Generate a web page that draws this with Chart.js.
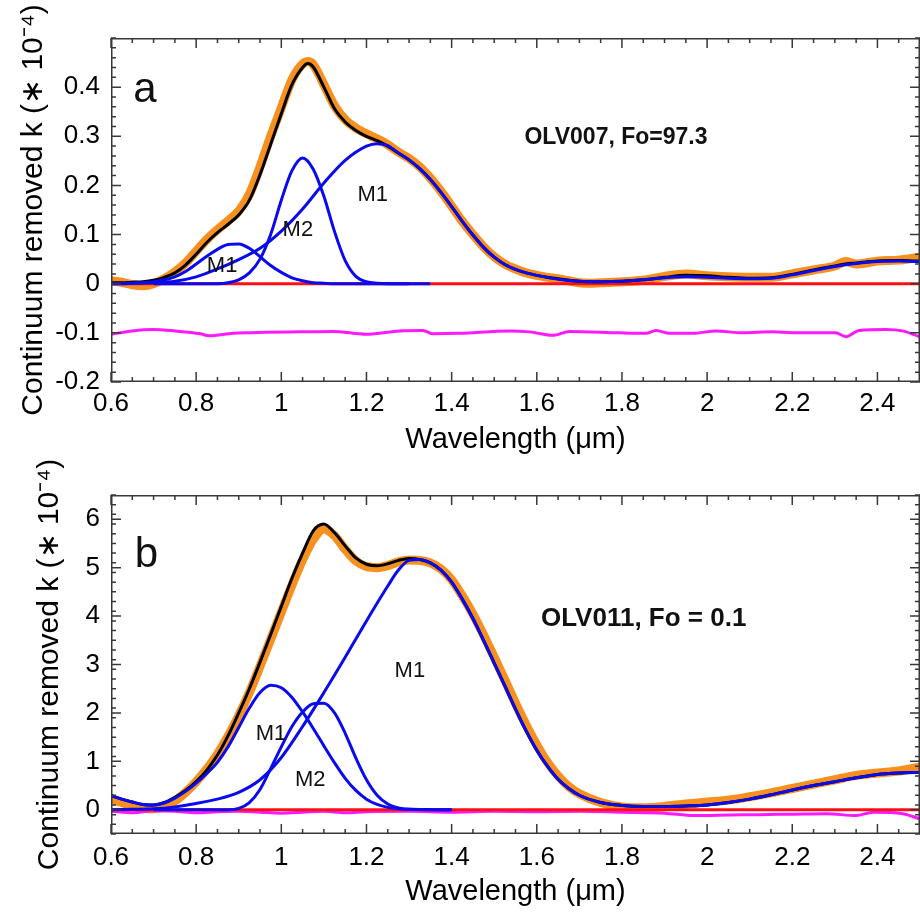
<!DOCTYPE html>
<html><head><meta charset="utf-8">
<script src="https://cdn.jsdelivr.net/npm/chart.js@4.4.1/dist/chart.umd.min.js"></script>
<style>html,body{margin:0;padding:0;background:#fff;}canvas{display:block;}</style>
</head><body>
<canvas id="ca" width="920" height="457" style="width:920px;height:457px"></canvas>
<canvas id="cb" width="920" height="457" style="width:920px;height:457px"></canvas>
<script>
// ---------- tick labels ----------
const xTickVals = [0.6,0.8,1.0,1.2,1.4,1.6,1.8,2.0,2.2,2.4];
const aTickVals = [-0.2,-0.1,0,0.1,0.2,0.3,0.4];
const bTickVals = [0,1,2,3,4,5,6];

// ---------- panel a : OLV007 ----------
const aDataX = [0.600,0.625,0.650,0.675,0.700,0.725,0.750,0.775,0.800,0.825,0.850,0.875,0.900,0.925,0.950,0.975,1.000,1.025,1.050,1.0625,
  1.075,1.100,1.125,1.150,1.175,1.200,1.225,1.250,1.275,1.300,1.325,1.350,1.375,1.400,1.425,1.450,1.475,1.500,1.525,1.550,1.575,1.600,1.625,1.650,1.675,1.700,1.725,1.750,
  1.800,1.850,1.900,1.950,2.000,2.050,2.100,2.150,2.200,2.250,2.300,2.325,2.350,2.400,2.450,2.500];
const aDataK = [0.006,0.003,-0.002,-0.004,0.000,0.010,0.024,0.042,0.066,0.090,0.110,0.128,0.148,0.182,0.238,0.300,0.358,0.415,0.447,0.452,
  0.446,0.405,0.362,0.334,0.317,0.305,0.295,0.283,0.268,0.255,0.238,0.215,0.188,0.158,0.127,0.100,0.075,0.055,0.040,0.030,0.022,0.017,0.013,0.010,0.006,0.002,0.001,0.002,
  0.004,0.007,0.015,0.020,0.016,0.014,0.013,0.013,0.020,0.028,0.036,0.045,0.040,0.046,0.048,0.054];
const aFitK = [0.002,0.002,0.003,0.004,0.007,0.013,0.022,0.038,0.060,0.084,0.104,0.121,0.140,0.170,0.222,0.284,0.346,0.405,0.440,0.448,
  0.441,0.400,0.356,0.329,0.312,0.300,0.291,0.280,0.266,0.252,0.234,0.212,0.186,0.157,0.127,0.099,0.074,0.054,0.039,0.029,0.022,0.017,0.013,0.010,0.007,0.005,0.004,0.004,
  0.005,0.008,0.013,0.017,0.016,0.013,0.011,0.012,0.019,0.028,0.036,0.040,0.042,0.046,0.047,0.046];
const aG1X = [0.600,0.625,0.650,0.675,0.700,0.725,0.750,0.775,0.800,0.825,0.850,0.875,0.900,0.925,0.950,0.975,1.000,1.025,1.050,1.075,1.100,1.125,1.150,1.200,1.300];
const aG1K = [0.000,0.000,0.001,0.002,0.004,0.008,0.014,0.025,0.040,0.056,0.070,0.080,0.081,0.072,0.055,0.037,0.023,0.012,0.006,0.002,0.001,0.000,0.000,0.000,0.000];
const aG2X = [0.700,0.850,0.875,0.900,0.925,0.950,0.975,1.000,1.025,1.050,1.075,1.100,1.125,1.150,1.175,1.200,1.225,1.250,1.350];
const aG2K = [0.000,0.000,0.002,0.008,0.022,0.050,0.100,0.170,0.230,0.256,0.233,0.178,0.106,0.047,0.015,0.004,0.001,0.000,0.000];
const aG3X = [0.60,0.65,0.70,0.75,0.80,0.85,0.90,0.95,1.00,1.05,1.10,1.15,1.20,
  1.225,1.250,1.275,1.300,1.325,1.350,1.375,1.400,1.425,1.450,1.475,1.500,1.525,1.550,1.575,1.600,
  1.65,1.70,1.75,1.80,1.85,1.90,1.95,2.00,2.05,2.10,2.15,2.20,2.25,2.30,2.35,2.40,2.45,2.50];
const aG3K = [0.000,0.001,0.002,0.005,0.014,0.030,0.049,0.072,0.107,0.152,0.205,0.251,0.280,
  0.285,0.281,0.266,0.252,0.234,0.212,0.186,0.157,0.127,0.099,0.074,0.054,0.039,0.029,0.022,0.017,
  0.009,0.005,0.004,0.005,0.008,0.012,0.014,0.013,0.011,0.010,0.011,0.018,0.027,0.035,0.041,0.045,0.046,0.045];
const aResX = [0.6,0.65,0.7,0.75,0.81,0.83,0.887,0.965,1.043,1.121,1.2,1.278,1.333,1.356,1.419,1.536,1.583,1.638,1.677,1.794,
  1.857,1.88,1.911,1.966,2.021,2.083,2.154,2.2,2.302,2.326,2.357,2.42,2.459,2.5];
const aResK = [-0.103,-0.096,-0.093,-0.096,-0.102,-0.106,-0.101,-0.099,-0.098,-0.097,-0.103,-0.096,-0.095,-0.102,-0.101,-0.096,-0.098,-0.105,-0.097,-0.100,
  -0.101,-0.095,-0.101,-0.101,-0.096,-0.100,-0.098,-0.100,-0.100,-0.108,-0.095,-0.093,-0.096,-0.108];

// ---------- panel b : OLV011 ----------
const bDataX = [0.600,0.625,0.650,0.675,0.700,0.725,0.750,0.775,0.800,0.825,0.850,0.875,0.900,0.925,0.950,0.975,1.000,1.025,1.050,1.075,1.100,1.125,1.150,1.175,1.200,1.225,1.250,1.275,1.300,
  1.325,1.350,1.375,1.400,1.425,1.450,1.475,1.500,1.525,1.550,1.575,1.600,1.625,1.650,1.675,1.700,
  1.75,1.80,1.85,1.90,1.95,2.00,2.05,2.10,2.15,2.20,2.25,2.30,2.35,2.40,2.45,2.50];
const bDataK = [0.22,0.15,0.08,0.03,0.02,0.06,0.18,0.36,0.58,0.84,1.15,1.52,1.94,2.42,2.96,3.52,4.08,4.64,5.16,5.58,5.80,5.66,5.38,5.14,5.02,5.00,5.04,5.12,5.16,
  5.15,5.10,4.97,4.75,4.42,4.04,3.61,3.15,2.68,2.20,1.75,1.34,0.98,0.70,0.48,0.33,
  0.15,0.06,0.04,0.07,0.12,0.16,0.20,0.27,0.35,0.44,0.53,0.62,0.71,0.76,0.80,0.88];
const bFitK = [0.29,0.22,0.16,0.11,0.10,0.15,0.26,0.40,0.58,0.82,1.13,1.53,2.00,2.50,3.05,3.62,4.20,4.78,5.30,5.76,5.90,5.72,5.45,5.20,5.07,5.04,5.08,5.15,5.19,
  5.17,5.10,4.95,4.70,4.35,3.95,3.50,3.03,2.56,2.08,1.63,1.23,0.90,0.63,0.44,0.30,
  0.15,0.09,0.07,0.07,0.08,0.10,0.15,0.22,0.31,0.41,0.50,0.58,0.66,0.73,0.76,0.77];
const bG1X = [0.600,0.625,0.650,0.675,0.700,0.725,0.750,0.775,0.800,0.825,0.850,0.875,0.900,0.925,0.950,0.975,1.000,1.025,1.050,1.075,1.100,1.125,1.150,1.175,1.200,1.225,1.250,1.275,1.300,1.400];
const bG1K = [0.30,0.22,0.16,0.11,0.10,0.14,0.24,0.38,0.55,0.75,0.98,1.30,1.70,2.10,2.42,2.57,2.52,2.32,2.02,1.68,1.32,0.97,0.65,0.40,0.22,0.11,0.05,0.02,0.01,0.00];
const bG2X = [0.700,0.875,0.900,0.925,0.950,0.975,1.000,1.025,1.050,1.075,1.100,1.125,1.150,1.175,1.200,1.225,1.250,1.275,1.300,1.400];
const bG2K = [0.00,0.00,0.03,0.15,0.42,0.85,1.30,1.72,2.02,2.19,2.20,2.00,1.58,1.07,0.62,0.30,0.12,0.04,0.01,0.00];
const bG3X = [0.60,0.65,0.70,0.75,0.80,0.85,0.90,0.95,1.00,1.05,1.10,1.15,1.20,1.25,1.275,1.300,
  1.325,1.350,1.375,1.400,1.425,1.450,1.475,1.500,1.525,1.550,1.575,1.600,1.625,1.650,1.675,1.700,
  1.75,1.80,1.85,1.90,1.95,2.00,2.05,2.10,2.15,2.20,2.25,2.30,2.35,2.40,2.45,2.50];
const bG3K = [0.00,0.01,0.02,0.06,0.13,0.22,0.36,0.62,1.08,1.72,2.42,3.15,3.90,4.62,4.95,5.15,
  5.17,5.10,4.95,4.70,4.35,3.95,3.50,3.03,2.56,2.08,1.63,1.23,0.90,0.63,0.44,0.30,
  0.15,0.09,0.07,0.07,0.08,0.10,0.15,0.22,0.31,0.41,0.50,0.58,0.66,0.73,0.76,0.77];
const bResX = [0.6,0.65,0.7,0.75,0.8,0.85,0.9,0.95,1.0,1.05,1.1,1.15,1.2,1.3,1.4,1.5,1.6,1.7,1.8,1.9,1.97,2.05,2.12,2.2,2.28,2.35,2.39,2.46,2.5];
const bResK = [-0.03,-0.06,-0.02,-0.03,-0.06,-0.04,-0.03,-0.05,-0.07,-0.05,-0.03,-0.06,-0.04,-0.03,-0.05,-0.03,-0.04,-0.03,-0.05,-0.07,-0.12,-0.11,-0.10,-0.09,-0.08,-0.12,-0.05,-0.08,-0.19];

const zeroX = [0.6, 2.5];
const zeroK = [0, 0];

// ---------- text annotations (data coordinates) ----------
const aNotes = [
  {t:'a', x:0.652, y:0.369, size:42},
  {t:'OLV007, Fo=97.3', x:1.786, y:0.285, size:23, bold:true, center:true},
  {t:'M1', x:1.179, y:0.169, size:22},
  {t:'M2', x:1.003, y:0.098, size:22},
  {t:'M1', x:0.825, y:0.024, size:22}
];
const bNotes = [
  {t:'b', x:0.656, y:5.02, size:42},
  {t:'OLV011, Fo = 0.1', x:1.851, y:3.79, size:26, bold:true, center:true},
  {t:'M1', x:1.266, y:2.74, size:22},
  {t:'M1', x:0.940, y:1.45, size:22},
  {t:'M2', x:1.032, y:0.49, size:22}
];

const FAM = "'Liberation Sans', Arial, Helvetica, sans-serif";
const ORANGE = '#f7901e', BLUE = '#0a0aee', RED = '#ff1010', MAGENTA = '#ff19ff';

function pts(xs, ys) { return xs.map((x, i) => ({x: x, y: ys[i]})); }
function ds(xs, ys, color, w) {
  return {data: pts(xs, ys), borderColor: color, backgroundColor: color, borderWidth: w,
          showLine: true, pointRadius: 0, fill: false, cubicInterpolationMode: 'monotone'};
}
function fmt(v) { return String(Math.round(v * 100) / 100); }

const framePlugin = {
  id: 'frame',
  afterDatasetsDraw(chart) {
    const o = chart.options.plugins.frame;
    const {ctx, chartArea: {left, right, top, bottom}, scales: {x, y}} = chart;
    ctx.save();
    ctx.strokeStyle = '#383838';
    ctx.lineWidth = 1.5;
    ctx.strokeRect(left + 0.75, top + 0.75, right - left - 1.5, bottom - top - 1.5);
    ctx.beginPath();
    const xt = (v, len) => { const p = x.getPixelForValue(v); ctx.moveTo(p, bottom); ctx.lineTo(p, bottom - len); ctx.moveTo(p, top); ctx.lineTo(p, top + len); };
    const yt = (v, len) => { const p = y.getPixelForValue(v); ctx.moveTo(left, p); ctx.lineTo(left + len, p); ctx.moveTo(right, p); ctx.lineTo(right - len, p); };
    for (let i = 0; ; i++) { const v = x.min + i * o.xMinor; if (v > x.max + 1e-9) break; xt(v, 5); }
    for (let i = 0; ; i++) { const v = y.min + i * o.yMinor; if (v > y.max + 1e-9) break; yt(v, 5); }
    o.xMajor.forEach(v => xt(v, 10));
    o.yMajor.forEach(v => yt(v, 10));
    ctx.stroke();
    ctx.restore();
  },
  afterDraw(chart) {
    const o = chart.options.plugins.frame;
    const {ctx, scales: {x, y}} = chart;
    ctx.save();
    ctx.fillStyle = '#111';
    ctx.textBaseline = 'alphabetic';
    o.notes.forEach(n => {
      ctx.font = (n.bold ? 'bold ' : '') + n.size + 'px ' + FAM;
      ctx.textAlign = n.center ? 'center' : 'left';
      ctx.fillText(n.t, x.getPixelForValue(n.x), y.getPixelForValue(n.y));
    });
    ctx.restore();
  }
};

function makeChart(id, cfg) {
  return new Chart(document.getElementById(id), {
    type: 'scatter',
    data: {datasets: cfg.datasets},
    options: {
      animation: false, responsive: false, devicePixelRatio: 1,
      layout: {padding: {top: 38, right: 0, bottom: 0, left: 0}},
      plugins: {legend: {display: false}, tooltip: {enabled: false},
        frame: {xMajor: xTickVals, yMajor: cfg.yTicks, xMinor: 0.05, yMinor: cfg.yMinor, notes: cfg.notes}},
      scales: {
        x: {type: 'linear', min: 0.6, max: 2.5,
          grid: {display: false, drawTicks: false}, border: {display: false},
          afterBuildTicks: s => { s.ticks = xTickVals.map(v => ({value: v})); },
          afterFit: s => { s.height = cfg.xh; },
          ticks: {padding: cfg.xpad, color: '#000', font: {size: 26, family: FAM}, maxRotation: 0, autoSkip: false, callback: v => fmt(v)},
          title: {display: true, text: 'Wavelength (μm)', color: '#000', font: {size: 29, family: FAM}, padding: {top: 0, bottom: cfg.xtp}}
        },
        y: {type: 'linear', min: cfg.ymin, max: cfg.ymax,
          grid: {display: false, drawTicks: false}, border: {display: false},
          afterBuildTicks: s => { s.ticks = cfg.yTicks.map(v => ({value: v})); },
          afterFit: s => { s.width = 111; },
          ticks: {padding: 11, color: '#000', font: {size: 26, family: FAM}, autoSkip: false, callback: v => fmt(v)},
          title: {display: true, text: 'Continuum removed k (∗ 10⁻⁴)', color: '#000', font: {size: 30, family: FAM}, padding: {top: cfg.ytp, bottom: 0}}
        }
      }
    },
    plugins: [framePlugin]
  });
}

makeChart('ca', {
  ymin: -0.2, ymax: 0.5, yTicks: aTickVals, yMinor: 0.02, xh: 75, xpad: 6, xtp: 0, ytp: 16, notes: aNotes,
  datasets: [
    ds(aG1X, aG1K, BLUE, 3),
    ds(aG2X, aG2K, BLUE, 3),
    ds(aG3X, aG3K, BLUE, 3),
    ds(aDataX, aFitK, '#000', 3),
    ds(zeroX, zeroK, RED, 3),
    ds(aResX, aResK, MAGENTA, 3),
    ds(aDataX, aDataK, ORANGE, 9)
  ]
});
makeChart('cb', {
  ymin: -0.5, ymax: 6.5, yTicks: bTickVals, yMinor: 0.2, xh: 80, xpad: 8, xtp: 5, ytp: 32, notes: bNotes,
  datasets: [
    ds(bG1X, bG1K, BLUE, 3),
    ds(bG2X, bG2K, BLUE, 3),
    ds(bG3X, bG3K, BLUE, 3),
    ds(bDataX, bFitK, '#000', 3),
    ds(zeroX, zeroK, RED, 3),
    ds(bResX, bResK, MAGENTA, 3),
    ds(bDataX, bDataK, ORANGE, 9)
  ]
});
</script>
</body></html>
